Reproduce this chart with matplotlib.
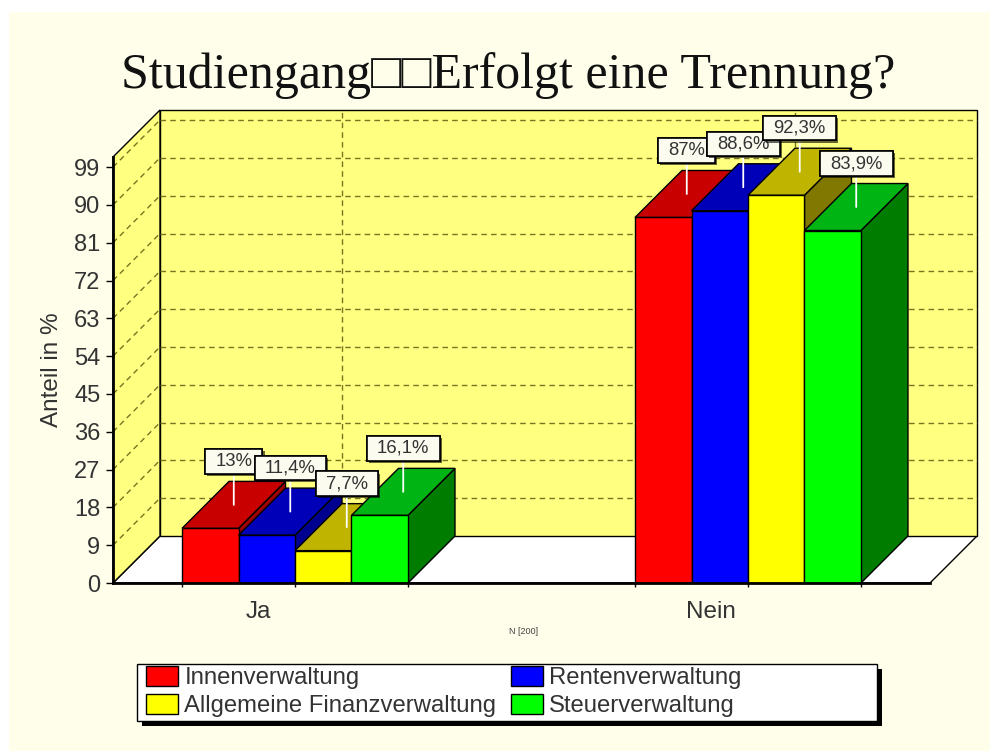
import matplotlib
matplotlib.use("Agg")
import matplotlib.pyplot as plt
from matplotlib.patches import Polygon, Rectangle, Patch
from matplotlib.path import Path
from matplotlib.patheffects import withSimplePatchShadow, Normal

W, H = 990, 751
categories = ["Ja", "Nein"]
series = ["Innenverwaltung", "Rentenverwaltung", "Allgemeine Finanzverwaltung", "Steuerverwaltung"]
innen = [13, 87]
renten = [11.4, 88.6]
allgemein = [7.7, 92.3]
steuer = [16.1, 83.9]
labels_innen = ["13%", "87%"]
labels_renten = ["11,4%", "88,6%"]
labels_allgemein = ["7,7%", "92,3%"]
labels_steuer = ["16,1%", "83,9%"]
yticks = [0, 9, 18, 27, 36, 45, 54, 63, 72, 81, 90, 99]
colors = ["#FF0000", "#0000FF", "#FFFF00", "#00FF00"]
tops = ["#C80000", "#0000B8", "#BFB400", "#00B414"]
sides = ["#A00000", "#000090", "#807800", "#007D00"]

plt.rcParams["font.family"] = ["Liberation Sans", "DejaVu Sans"]
fig = plt.figure(figsize=(W / 100, H / 100), dpi=100, facecolor="white")
fig.add_artist(Rectangle((9 / W, 0), (W - 9) / W, (H - 12) / H, transform=fig.transFigure,
                         facecolor="#FEFEEA", edgecolor="none", zorder=-5))

L, R, B, T = 113, 930, 583, 157
ax = fig.add_axes([L / W, 1 - B / H, (R - L) / W, (B - T) / H])
ax.patch.set_visible(False)
ax.set_xlim(-0.4018, 1.4018)
ax.set_ylim(0, 101.4)
for s in ("top", "right"):
    ax.spines[s].set_visible(False)
for s in ("left", "bottom"):
    ax.spines[s].set_linewidth(2.0)
    ax.spines[s].set_zorder(30)

px_x = (R - L) / 1.8036
px_y = (B - T) / 101.4
DX = 47 / px_x
DY = 47 / px_y
xmin, xmax = ax.get_xlim()
ytop = ax.get_ylim()[1]
dark = "#7A7420"

def poly(pts, fc, z, ec="black", lw=1.0):
    ax.add_patch(Polygon(pts, closed=True, facecolor=fc, edgecolor=ec, linewidth=lw, zorder=z, clip_on=False))

def label_box(x0, y0, width, height, mutation_size):
    padx, pady = 0.55 * mutation_size, 0.2 * mutation_size
    x0, x1 = x0 - padx, x0 + width + padx
    y0, y1 = y0 - pady, y0 + height + pady
    return Path([(x0, y0), (x1, y0), (x1, y1), (x0, y1), (x0, y0)], closed=True)

# floor and walls
poly([(xmin, 0), (xmax, 0), (xmax + DX, DY), (xmin + DX, DY)], "white", 1)
poly([(xmin + DX, DY), (xmax + DX, DY), (xmax + DX, ytop + DY), (xmin + DX, ytop + DY)], "#FFFF80", 1)
poly([(xmin, 0), (xmin + DX, DY), (xmin + DX, ytop + DY), (xmin, ytop)], "#FFFF80", 1)

# grid
for v in yticks[1:]:
    ax.plot([xmin + DX, xmax + DX], [v + DY, v + DY], color=dark, lw=1, ls=(0, (4, 3)), zorder=2, clip_on=False)
    ax.plot([xmin, xmin + DX], [v, v + DY], color=dark, lw=1, ls=(0, (4, 3)), zorder=2, clip_on=False)
for c in range(len(categories)):
    ax.plot([c + DX, c + DX], [DY, ytop + DY], color=dark, lw=1, ls=(0, (4, 3)), zorder=2, clip_on=False)

# bars
all_vals = [innen, renten, allgemein, steuer]
all_labs = [labels_innen, labels_renten, labels_allgemein, labels_steuer]
bw = 0.1247
z = 5
for c in range(len(categories)):
    for i, vals in enumerate(all_vals):
        v = vals[c]
        x0 = c - 2 * bw + i * bw
        x1 = x0 + bw
        poly([(x1, 0), (x1 + DX, DY), (x1 + DX, v + DY), (x1, v)], sides[i], z)
        poly([(x0, v), (x1, v), (x1 + DX, v + DY), (x0 + DX, v + DY)], tops[i], z + 1)
        ax.bar(x0, v, width=bw, align="edge", color=colors[i], edgecolor="black", linewidth=1.0, zorder=z + 2)
        z += 3

# value labels
z = 40
for c in range(len(categories)):
    for i, vals in enumerate(all_vals):
        v = vals[c]
        xc = c - 2 * bw + (i + 0.5) * bw + DX / 2
        ann = ax.annotate(all_labs[i][c], xy=(xc, v + DY / 2), xytext=(0, 35 * 0.72), textcoords="offset points",
                          ha="center", va="bottom", fontsize=13.3, color="#333333", zorder=z, annotation_clip=False,
                          bbox=dict(boxstyle=label_box, facecolor="#FBFBF0", edgecolor="black", linewidth=1.2),
                          arrowprops=dict(arrowstyle="-", color="white", lw=1.3, shrinkA=0, shrinkB=0))
        ann.get_bbox_patch().set_path_effects([withSimplePatchShadow(offset=(1.5, -1.5), shadow_rgbFace="black", alpha=0.6), Normal()])
        z += 1

# axes ticks and labels
ax.set_yticks(yticks)
ax.tick_params(axis="y", labelsize=17, labelcolor="#333333", length=5, width=1, pad=4)
edges = [c + k * 2 * bw for c in range(len(categories)) for k in (-1, 0, 1)]
ax.set_xticks(edges)
ax.set_xticklabels([])
ax.tick_params(axis="x", length=3, width=1)
for c, name in enumerate(categories):
    ax.annotate(name, xy=(c, 0), xytext=(-37 * 0.72, -18 * 0.72), textcoords="offset points", ha="center", va="top",
                fontsize=17.5, color="#333333", annotation_clip=False)
fig.text(52 / W, 1 - 370 / H, "Anteil in %", rotation=90, ha="center", va="center", fontsize=17.5, color="#333333")
fig.text(524 / W, 1 - 631 / H, "N [200]", ha="center", va="center", fontsize=6.5, color="#444444")
fig.text(508 / W, 1 - 76 / H, "Studiengang\u25a1\u25a1Erfolgt eine Trennung?", ha="center", va="center", fontsize=36,
         color="#111111", family=["Liberation Serif", "DejaVu Sans"])

# legend
fig.add_artist(Rectangle((142 / W, 1 - 726 / H), 740 / W, 57 / H, transform=fig.transFigure, facecolor="black", edgecolor="none", zorder=3))
fig.add_artist(Rectangle((137 / W, 1 - 721 / H), 740 / W, 57 / H, transform=fig.transFigure, facecolor="white", edgecolor="black", linewidth=1, zorder=4))
order = [0, 2, 1, 3]
handles = [Patch(facecolor=colors[i], edgecolor="black", label=series[i]) for i in order]
leg = fig.legend(handles=handles, ncol=2, frameon=False, loc="upper left",
                 bbox_to_anchor=(146 / W, 1 - 666 / H), fontsize=17.2, labelcolor="#333333",
                 handlelength=1.36, handleheight=0.9, handletextpad=0.25, columnspacing=0.6, labelspacing=0.2,
                 borderpad=0, borderaxespad=0)
leg.set_zorder(5)

fig.savefig("out.png", dpi=100, facecolor=fig.get_facecolor())
